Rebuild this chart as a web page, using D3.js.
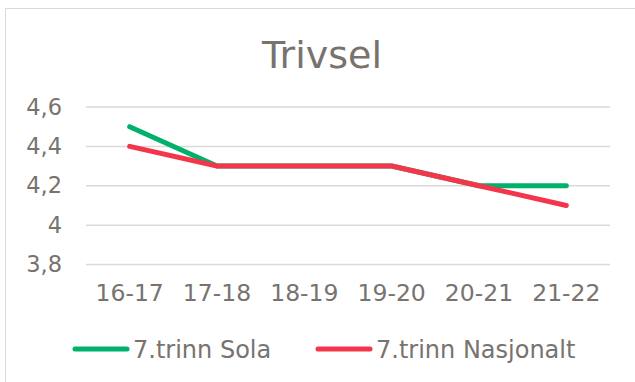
<!DOCTYPE html>
<html>
<head>
<meta charset="utf-8">
<script src="https://cdn.jsdelivr.net/npm/d3@7"></script>
<style>
  html, body { margin: 0; padding: 0; background: #fff; }
  svg { display: block; }
  text { font-family: "DejaVu Sans", Verdana, sans-serif; fill: #78736e; }
</style>
</head>
<body>
<svg id="chart" width="635" height="382"></svg>
<script>
// School years on the x axis
const categories = ["16-17", "17-18", "18-19", "19-20", "20-21", "21-22"];
// Average wellbeing score, 7th grade
const solaValues = [4.5, 4.3, 4.3, 4.3, 4.2, 4.2];
const nasjonaltValues = [4.4, 4.3, 4.3, 4.3, 4.2, 4.1];
const yTicks = [3.8, 4.0, 4.2, 4.4, 4.6];
const seriesNames = ["7.trinn Sola", "7.trinn Nasjonalt"];
const seriesColors = ["#00b16b", "#f4364c"];

const svg = d3.select("#chart");
const W = 635, H = 382;
const textColor = "#78736e";
const fontFamily = "'DejaVu Sans', Verdana, sans-serif";

// outer chart frame (runs off the right and bottom edges)
svg.append("rect")
  .attr("x", 5.5).attr("y", 8.5)
  .attr("width", W + 10).attr("height", H + 10)
  .attr("fill", "#fff").attr("stroke", "#d9d9d9").attr("stroke-width", 1);

const x = d3.scaleBand().domain(categories).range([86, 610]);
const y = d3.scaleLinear().domain([3.8, 4.6]).range([264.5, 107]);

// title
svg.append("text")
  .attr("x", 322).attr("y", 68)
  .attr("text-anchor", "middle")
  .style("font-size", "38px")
  .text("Trivsel");

// horizontal gridlines + y labels
const fmt = v => (Math.round(v * 10) / 10).toString().replace(".", ",");
const yAxis = d3.axisLeft(y).tickValues(yTicks).tickSize(0).tickPadding(0).tickFormat(fmt);
const gy = svg.append("g").attr("transform", "translate(62,0)").call(yAxis);
gy.select(".domain").remove();
gy.selectAll("text")
  .attr("x", 0)
  .style("font-size", "22.5px")
  .style("font-family", fontFamily)
  .attr("fill", textColor);

svg.append("g").selectAll("line")
  .data(yTicks).join("line")
  .attr("x1", 86).attr("x2", 610)
  .attr("y1", d => y(d)).attr("y2", d => y(d))
  .attr("stroke", "#d9d9d9").attr("stroke-width", 1.5);

// x labels
const xAxis = d3.axisBottom(x).tickSize(0).tickPadding(0);
const gx = svg.append("g").attr("transform", "translate(0,284)").call(xAxis);
gx.select(".domain").remove();
gx.selectAll("text")
  .style("font-size", "23.5px")
  .style("font-family", fontFamily)
  .attr("fill", textColor);

// series lines
const line = d3.line()
  .x((d, i) => x(categories[i]) + x.bandwidth() / 2)
  .y(d => y(d));

[solaValues, nasjonaltValues].forEach((vals, k) => {
  svg.append("path")
    .datum(vals)
    .attr("d", line)
    .attr("fill", "none")
    .attr("stroke", seriesColors[k])
    .attr("stroke-width", 5)
    .attr("stroke-linecap", "round")
    .attr("stroke-linejoin", "round");
});

// legend
const legendX = [75, 318];
const legend = svg.append("g");
seriesNames.forEach((name, k) => {
  legend.append("line")
    .attr("x1", legendX[k]).attr("x2", legendX[k] + 52)
    .attr("y1", 349).attr("y2", 349)
    .attr("stroke", seriesColors[k]).attr("stroke-width", 5)
    .attr("stroke-linecap", "round");
  legend.append("text")
    .attr("x", legendX[k] + 58).attr("y", 358)
    .style("font-size", "24px")
    .text(name);
});
</script>
</body>
</html>
